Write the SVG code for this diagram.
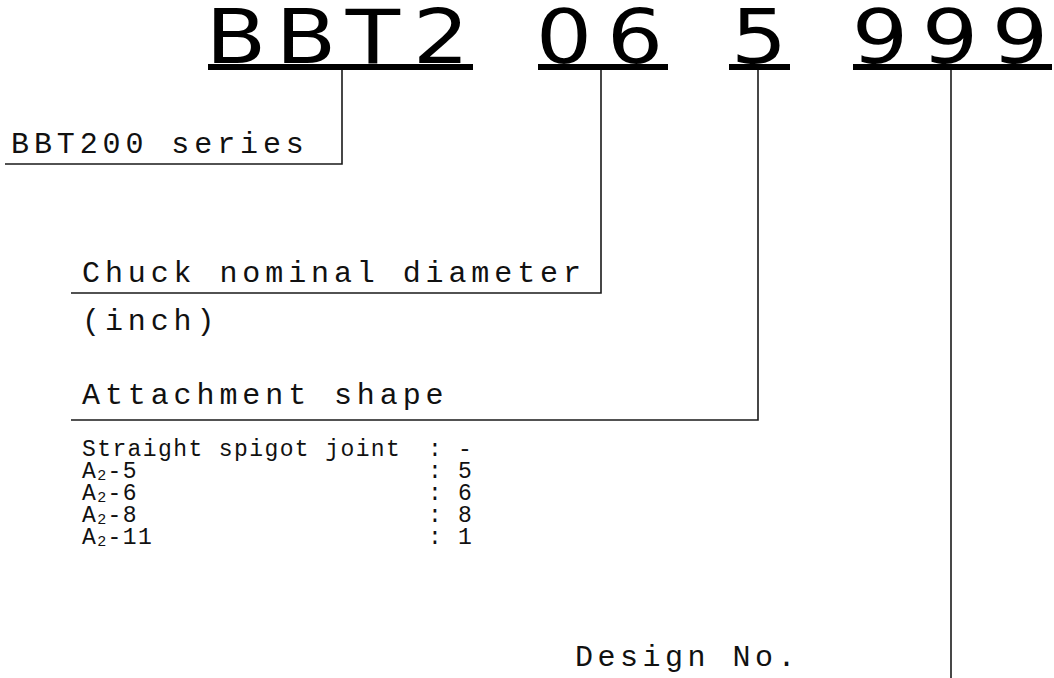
<svg xmlns="http://www.w3.org/2000/svg" width="1054" height="678" viewBox="0 0 1054 678">
<style>
.big{font-family:"DejaVu Sans","Liberation Sans",sans-serif;font-size:74px;fill:#000;text-anchor:middle}
.lbl{font-family:"Liberation Mono","DejaVu Sans Mono",monospace;font-size:30px;letter-spacing:4.9px;fill:#111}
.tbl{font-family:"Liberation Mono","DejaVu Sans Mono",monospace;font-size:23px;letter-spacing:1.4px;fill:#111}
.sub{font-size:15px}
.ul{fill:#000}
.conn{fill:none;stroke:#1a1a1a;stroke-width:1.6}
</style>
<rect width="1054" height="678" fill="#fff"/>
<g id="code">
  <g id="part-bbt2">
    <text class="big" transform="scale(1.2 1)" x="196.67 255 310.83 367.5" y="63">BBT2</text>
    <rect class="ul" x="208" y="64" width="265" height="6"/>
  </g>
  <g id="part-06">
    <text class="big" transform="scale(1.2 1)" x="470 529.17" y="63">06</text>
    <rect class="ul" x="538" y="64" width="130" height="6"/>
  </g>
  <g id="part-5">
    <text class="big" transform="scale(1.2 1)" x="632.5" y="63">5</text>
    <rect class="ul" x="729" y="64" width="61" height="6"/>
  </g>
  <g id="part-999">
    <text class="big" transform="scale(1.2 1)" x="733.33 791.67 850" y="63">999</text>
    <rect class="ul" x="853" y="64" width="199" height="6"/>
  </g>
</g>
<g id="connectors">
  <polyline class="conn" points="342,70 342,164 5,164"/>
  <polyline class="conn" points="601,70 601,293 71,293"/>
  <polyline class="conn" points="758,70 758,420 71,420"/>
  <polyline class="conn" points="951,70 951,678"/>
</g>
<g id="label-series">
  <text class="lbl" x="11" y="153">BBT200 series</text>
</g>
<g id="label-diameter">
  <text class="lbl" x="82" y="282">Chuck nominal diameter</text>
  <text class="lbl" x="82" y="330">(inch)</text>
</g>
<g id="label-attachment">
  <text class="lbl" x="82" y="404">Attachment shape</text>
  <g id="attachment-table">
    <text class="tbl" x="82" y="456">Straight spigot joint</text>
    <text class="tbl" x="82" y="478">A<tspan class="sub" dy="2">2</tspan><tspan dy="-2">-5</tspan></text>
    <text class="tbl" x="82" y="500">A<tspan class="sub" dy="2">2</tspan><tspan dy="-2">-6</tspan></text>
    <text class="tbl" x="82" y="522">A<tspan class="sub" dy="2">2</tspan><tspan dy="-2">-8</tspan></text>
    <text class="tbl" x="82" y="544">A<tspan class="sub" dy="2">2</tspan><tspan dy="-2">-11</tspan></text>
    <text class="tbl" x="428" y="456">:</text>
    <text class="tbl" x="428" y="478">:</text>
    <text class="tbl" x="428" y="500">:</text>
    <text class="tbl" x="428" y="522">:</text>
    <text class="tbl" x="428" y="544">:</text>
    <text class="tbl" x="458" y="456">-</text>
    <text class="tbl" x="458" y="478">5</text>
    <text class="tbl" x="458" y="500">6</text>
    <text class="tbl" x="458" y="522">8</text>
    <text class="tbl" x="458" y="544">1</text>
  </g>
</g>
<g id="label-design">
  <text class="lbl" x="575" y="666" style="letter-spacing:4.5px">Design No.</text>
</g>
</svg>
